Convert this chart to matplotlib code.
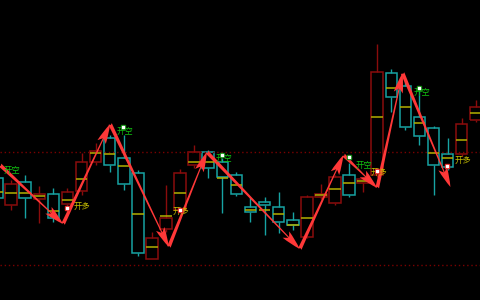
import matplotlib
matplotlib.use("Agg")
import matplotlib.pyplot as plt
import numpy as np

# ── Candle data (price units) ─────────────────────────────
opens  = [122, 95, 118, 101, 106, 96, 109, 138, 162, 142, 127, 41, 71, 90, 135, 148,
          138, 125, 93, 98, 93, 80, 63, 103, 97, 125, 117, 125, 227, 214, 183, 172,
          146, 146, 180]
closes = [102, 116, 102, 106, 82, 108, 138, 149, 135, 116, 47, 62, 82, 127, 148, 132,
          123, 106, 88, 95, 78, 75, 103, 106, 123, 105, 121, 228, 203, 173, 164, 135,
          133, 176, 193]
highs  = [130, 120, 125, 114, 112, 112, 147, 157, 165, 165, 130, 68, 115, 131, 155, 150,
          142, 128, 103, 103, 108, 88, 105, 116, 125, 137, 122, 256, 231, 220, 211, 174,
          162, 182, 200]
lows   = [95, 90, 82, 77, 78, 88, 105, 135, 128, 110, 44, 41, 68, 88, 132, 122,
          87, 104, 78, 65, 67, 70, 62, 101, 95, 103, 108, 123, 188, 170, 155, 105,
          130, 144, 178]
mids   = [108, 107, 107, 104, 89, 100, 121, 147, 146, 134, 86, 53, 84, 107, 138, 138,
          122, 115, 90, 90, 86, 75, 82, 105, 111, 117, 119, 183, 212, 193, 177, 147,
          142, 160, 187]

# zigzag swing points (bar index, price)
zz_x = [0.21, 4.69, 8.03, 12.2, 14.9, 21.5, 24.6, 27.0, 28.8, 32.2, 34.8]
zz_y = [135, 76, 176, 53, 148, 51, 145, 112, 227, 113, 211]

# signal labels
short_x = [0.5, 8.52, 15.55, 25.5, 29.55]
short_y = [130, 169, 142, 135, 208]
long_x = [5.47, 12.5, 26.56, 32.53]
long_y = [94, 89, 128, 140]
short_mk_x = [8.95, 15.98, 25.0, 29.97]
short_mk_y = [173, 145, 143, 212]
long_mk_x = [4.97, 13.0, 27.0, 31.96]
long_mk_y = [92, 90, 129, 134]

levels = [148, 35]

UP = "#8a0c0c"
DOWN = "#17a3a3"
MID = "#b3b000"
ARROW = "#ff3838"

fig = plt.figure(figsize=(4.8, 3.0), dpi=100)
fig.patch.set_facecolor("black")
ax = fig.add_axes([0, 0, 1, 1])
ax.set_facecolor("black")
ax.set_xlim(0.21, 34.3)
ax.set_ylim(0, 300)
ax.axis("off")

for lv in levels:
    ax.axhline(lv, color="#7a0000", linestyle=(0, (1, 2)), linewidth=1)

x = np.arange(len(opens))
o, c, h, l = map(np.array, (opens, closes, highs, lows))
top = np.maximum(o, c)
bot = np.minimum(o, c)
cols = [UP if cc >= oo else DOWN for oo, cc in zip(o, c)]

ax.vlines(x, top, h, colors=cols, linewidth=1)
ax.vlines(x, l, bot, colors=cols, linewidth=1)
ax.bar(x, top - bot, bottom=bot, width=0.82, fill=False,
       edgecolor=cols, linewidth=1.1)
ax.hlines(mids, x - 0.41, x + 0.41, colors=MID, linewidth=1.1)

# zigzag arrows
for i in range(len(zz_x) - 1):
    ax.annotate("", xy=(zz_x[i + 1], zz_y[i + 1]), xytext=(zz_x[i], zz_y[i]),
                arrowprops=dict(arrowstyle="fancy,head_length=2.4,head_width=1.1,tail_width=0.45",
                                color=ARROW, shrinkA=0, shrinkB=0, mutation_scale=6,
                                linewidth=0))

font = ["Noto Sans CJK SC", "DejaVu Sans"]
for tx, ty in zip(short_x, short_y):
    ax.text(tx, ty, "开空", color="#10c010", fontsize=6, family=font,
            ha="left", va="center")
for tx, ty in zip(long_x, long_y):
    ax.text(tx, ty, "开多", color="#c8c000", fontsize=6, family=font,
            ha="left", va="center")

ax.scatter(short_mk_x, short_mk_y, marker="s", s=10, color="#0c8a0c", zorder=5)
ax.scatter(short_mk_x, short_mk_y, marker="s", s=2.5, color="white", zorder=6)
ax.scatter(long_mk_x, long_mk_y, marker="s", s=10, color="#e02020", zorder=5)
ax.scatter(long_mk_x, long_mk_y, marker="s", s=2.5, color="white", zorder=6)

fig.savefig("out.png", dpi=100, facecolor="black")
